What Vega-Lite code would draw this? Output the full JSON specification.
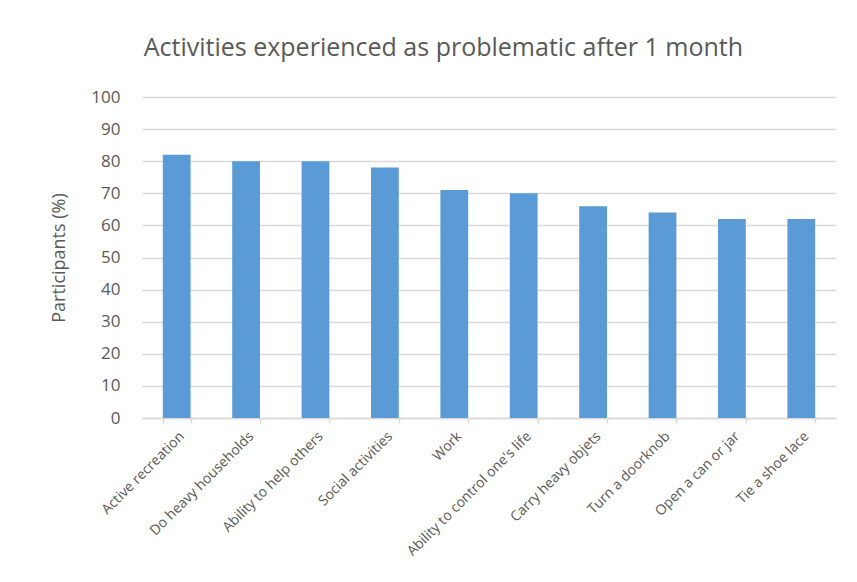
{
  "$schema": "https://vega.github.io/schema/vega-lite/v6.json",
  "width": 694,
  "height": 321,
  "autosize": {"type": "none"},
  "padding": {"left": 142, "top": 97, "right": 21, "bottom": 164},
  "background": "white",
  "title": {
    "text": "Activities experienced as problematic after 1 month",
    "font": "Open Sans",
    "fontSize": 25,
    "fontWeight": "normal",
    "color": "#595959",
    "anchor": "middle",
    "frame": "bounds",
    "offset": 27
  },
  "data": {
    "values": [
      {"activity": "Active recreation", "pct": 82},
      {"activity": "Do heavy households", "pct": 80},
      {"activity": "Ability to help others", "pct": 80},
      {"activity": "Social activities", "pct": 78},
      {"activity": "Work", "pct": 71},
      {"activity": "Ability to control one's life", "pct": 70},
      {"activity": "Carry heavy objets", "pct": 66},
      {"activity": "Turn a doorknob", "pct": 64},
      {"activity": "Open a can or jar", "pct": 62},
      {"activity": "Tie a shoe lace", "pct": 62}
    ]
  },
  "mark": {"type": "bar", "color": "#5B9BD5"},
  "encoding": {
    "x": {
      "field": "activity",
      "type": "nominal",
      "sort": null,
      "title": null,
      "scale": {"paddingInner": 0.6, "paddingOuter": 0.3},
      "axis": {
        "labelAngle": -45,
        "labelFont": "Open Sans",
        "labelFontSize": 14,
        "labelColor": "#595959",
        "labelPadding": 6,
        "domainColor": "#D9D9D9",
        "domainWidth": 1.5,
        "tickColor": "#D9D9D9",
        "tickWidth": 1.5,
        "tickBand": "extent",
        "tickSize": 5,
        "grid": false
      }
    },
    "y": {
      "field": "pct",
      "type": "quantitative",
      "title": "Participants (%)",
      "scale": {"domain": [0, 100]},
      "axis": {
        "values": [0, 10, 20, 30, 40, 50, 60, 70, 80, 90, 100],
        "domain": false,
        "ticks": false,
        "labelFont": "Open Sans",
        "labelFontSize": 17,
        "labelColor": "#595959",
        "labelPadding": 22,
        "titleFont": "Open Sans",
        "titleFontSize": 18,
        "titleFontWeight": "normal",
        "titleColor": "#595959",
        "titlePadding": 22,
        "gridColor": "#D9D9D9",
        "gridWidth": 1.5
      }
    }
  },
  "config": {"view": {"stroke": null}}
}
